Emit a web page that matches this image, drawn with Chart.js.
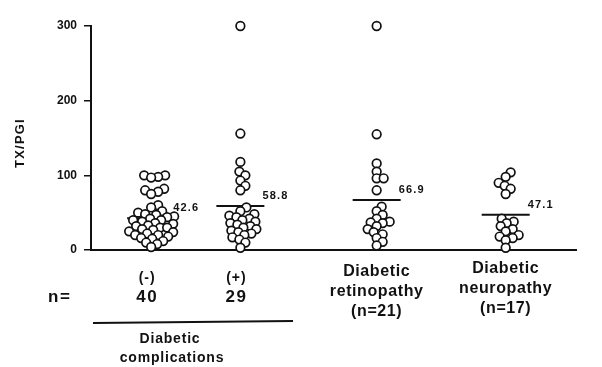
<!DOCTYPE html>
<html lang="en">
  <head>
    <meta charset="utf-8" />
    <title>TX/PGI</title>
    <script src="https://cdn.jsdelivr.net/npm/chart.js@4.4.0/dist/chart.umd.min.js"></script>
    <style>
      body { margin: 0; background: #fff; }
    </style>
  </head>
  <body>
    <canvas id="tx_chart" width="602" height="367"></canvas>
    <script>
      // values
      const noComplications = [100, 100, 98, 97, 82, 80, 78, 75, 60, 57,
        52, 50, 48, 47, 45, 44, 42, 40, 40, 38, 36, 35, 33, 32, 30,
        30, 28, 27, 25, 24, 22, 20, 20, 18, 16, 15, 12, 10, 8, 4];
      const withComplications = [300, 156, 118, 105, 100, 93, 86, 80,
        57, 52, 48, 46, 44, 42, 40, 38, 36, 34, 32, 30, 28, 26, 24, 22,
        20, 17, 14, 10, 3];
      const retinopathy = [300, 155, 116, 105, 96, 96, 80, 58, 52, 47,
        42, 38, 37, 36, 32, 28, 24, 21, 16, 11, 6];
      const neuropathy = [104, 98, 90, 86, 82, 75, 42, 38, 36, 32, 28,
        25, 20, 18, 16, 13, 3];

      const groups = [noComplications, withComplications, retinopathy, neuropathy];
      const groupX = [1.24, 3.08, 5.89, 8.55];
      const means = [42.6, 58.8, 66.9, 47.1];
      const meanLabels = ["42.6", "58.8", "66.9", "47.1"];
      const yTicks = [0, 100, 200, 300];
      const signLabels = ["(-)", "(+)"];
      const nLabels = ["40", "29"];
      const rightLabels = [
        ["Diabetic", "retinopathy", "(n=21)"],
        ["Diabetic", "neuropathy", "(n=17)"],
      ];

      const FONT = '"Liberation Sans", Arial, sans-serif';

      const datasets = groups.map((vals, g) => ({
        type: "scatter",
        data: vals.map((v) => ({ x: groupX[g], y: v })),
        pointRadius: 4.3,
        pointBorderWidth: 1.7,
        borderColor: "#111",
        backgroundColor: "#fff",
        clip: false,
      }));

      datasets.push({
        type: "scatter",
        data: means.map((m, g) => ({ x: groupX[g], y: m })),
        pointStyle: "line",
        pointRadius: 24,
        pointBorderWidth: 2,
        borderColor: "#111",
        clip: false,
      });

      const notes = {
        id: "notes",
        afterDraw(chart) {
          const ctx = chart.ctx;
          const xs = chart.scales.x;
          const ys = chart.scales.y;
          ctx.save();
          ctx.fillStyle = "#111";
          ctx.strokeStyle = "#111";

          // y title
          ctx.save();
          ctx.translate(24, 143);
          ctx.rotate(-Math.PI / 2);
          ctx.font = "bold 13px " + FONT;
          ctx.letterSpacing = "1.2px";
          ctx.textAlign = "center";
          ctx.fillText("TX/PGI", 0, 0);
          ctx.restore();

          // mean values
          ctx.font = "bold 11px " + FONT;
          ctx.letterSpacing = "1.2px";
          ctx.textAlign = "left";
          means.forEach((m, g) => {
            ctx.fillText(meanLabels[g], xs.getPixelForValue(groupX[g]) + 22, ys.getPixelForValue(m) - 7);
          });

          // left block under axis
          ctx.textAlign = "center";
          ctx.font = "bold 14px " + FONT;
          ctx.letterSpacing = "1px";
          signLabels.forEach((s, g) => {
            ctx.fillText(s, xs.getPixelForValue(groupX[g]) - 4, 282);
          });
          ctx.font = "bold 17px " + FONT;
          ctx.letterSpacing = "1.5px";
          nLabels.forEach((s, g) => {
            ctx.fillText(s, xs.getPixelForValue(groupX[g]) - 4, 302);
          });
          ctx.textAlign = "left";
          ctx.fillText("n=", 48, 302);

          ctx.lineWidth = 2;
          ctx.beginPath();
          ctx.moveTo(93, 323);
          ctx.lineTo(293, 321);
          ctx.stroke();

          ctx.textAlign = "center";
          ctx.font = "bold 14px " + FONT;
          ctx.letterSpacing = "0.8px";
          ctx.fillText("Diabetic", 170, 343);
          ctx.fillText("complications", 172, 362);

          // right groups
          ctx.font = "bold 16px " + FONT;
          ctx.letterSpacing = "0.6px";
          rightLabels.forEach((lines, k) => {
            const cx = xs.getPixelForValue(groupX[k + 2]);
            const top = k === 0 ? 276 : 273;
            lines.forEach((t, j) => ctx.fillText(t, cx, top + j * 20));
          });
          ctx.restore();
        },
      };

      const config = {
        data: { datasets: datasets },
        options: {
          responsive: false,
          devicePixelRatio: 1,
          animation: false,
          events: [],
          layout: { padding: { top: 17, right: 2, left: 0, bottom: 0 } },
          plugins: { legend: { display: false }, tooltip: { enabled: false } },
          scales: {
            x: {
              type: "linear",
              min: 0,
              max: 10,
              ticks: { display: false },
              grid: { display: false },
              border: { display: true, color: "#111", width: 2 },
              afterFit(scale) { scale.height = 117; },
            },
            y: {
              type: "linear",
              min: 0,
              max: 300,
              afterBuildTicks(scale) { scale.ticks = yTicks.map((v) => ({ value: v })); },
              ticks: {
                color: "#111",
                padding: 7,
                font: { family: FONT, size: 12, weight: "bold" },
              },
              grid: { drawOnChartArea: false, tickLength: 7, color: "#111", lineWidth: 1.5 },
              border: { display: true, color: "#111", width: 2 },
              afterFit(scale) { scale.width = 91; },
            },
          },
        },
        plugins: [notes],
      };

      const chart = new Chart(document.getElementById("tx_chart"), config);

      // simple beeswarm so circles sit side by side like the original
      function swarm(values, g) {
        const xs = chart.scales.x;
        const ys = chart.scales.y;
        const cx = xs.getPixelForValue(groupX[g]);
        const minD = 6.6;
        const placed = [];
        const offs = new Array(values.length).fill(0);
        const order = values.map((v, i) => i).sort((a, b) => values[a] - values[b]);
        order.forEach((i) => {
          const py = ys.getPixelForValue(values[i]);
          let off = 0;
          for (let k = 0; k < 400; k++) {
            off = (k % 2 ? 1 : -1) * Math.ceil(k / 2);
            if (placed.every((p) => Math.hypot(p.x - off, p.y - py) >= minD)) break;
          }
          placed.push({ x: off, y: py });
          offs[i] = off;
        });
        return values.map((v, i) => ({ x: xs.getValueForPixel(cx + offs[i]), y: v }));
      }

      groups.forEach((vals, g) => {
        chart.data.datasets[g].data = swarm(vals, g);
      });
      chart.update("none");
    </script>
  </body>
</html>
